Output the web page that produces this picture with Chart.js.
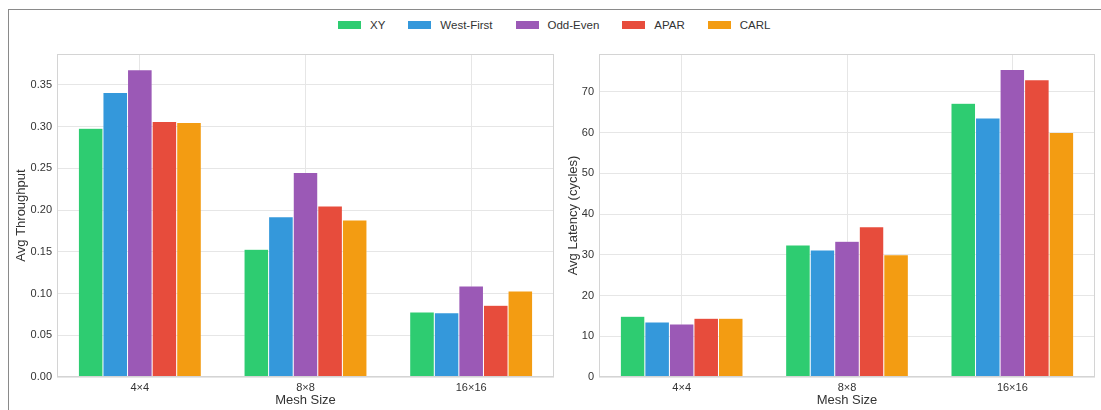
<!DOCTYPE html>
<html>
<head>
<meta charset="utf-8">
<script src="https://cdn.jsdelivr.net/npm/chart.js@4/dist/chart.umd.min.js"></script>
<style>
  html, body { margin: 0; padding: 0; background: #fff; }
  body { width: 1101px; height: 410px; position: relative; overflow: hidden;
         font-family: "Liberation Sans", Arial, sans-serif; }
  #frame { position: absolute; left: 8px; top: 9px; width: 1100px; height: 410px;
           border-top: 1px solid #8a8a8a; border-left: 1px solid #8a8a8a; }
  #legend { position: absolute; left: 338px; top: 17px; height: 16px; display: flex;
            align-items: center; gap: 23px; font-size: 11.5px; color: #333; }
  #legend .item { display: flex; align-items: center; }
  #legend .box { width: 23px; height: 8px; margin-right: 9px; }
  canvas { position: absolute; }
  #throughput { left: 0px; top: 40px; }
  #latency { left: 560px; top: 40px; }
</style>
</head>
<body>
<div id="frame"></div>
<div id="legend"></div>
<canvas id="throughput" width="560" height="370"></canvas>
<canvas id="latency" width="541" height="370"></canvas>
<script>
// Mesh sizes and routing algorithms
const meshSizes = ['4×4', '8×8', '16×16'];
const algorithms = ['XY', 'West-First', 'Odd-Even', 'APAR', 'CARL'];
const algoColors = ['#2ecc71', '#3498db', '#9b59b6', '#e74c3c', '#f39c12'];

// Average throughput per algorithm (one value per mesh size)
const throughputXY        = [0.298, 0.153, 0.078];
const throughputWestFirst = [0.341, 0.192, 0.077];
const throughputOddEven   = [0.368, 0.245, 0.109];
const throughputAPAR      = [0.306, 0.205, 0.086];
const throughputCARL      = [0.305, 0.188, 0.103];

// Average latency in cycles per algorithm (one value per mesh size)
const latencyXY        = [14.9, 32.4, 67.2];
const latencyWestFirst = [13.5, 31.2, 63.6];
const latencyOddEven   = [13.0, 33.3, 75.5];
const latencyAPAR      = [14.4, 36.9, 73.0];
const latencyCARL      = [14.4, 30.0, 60.0];

const throughputSeries = [throughputXY, throughputWestFirst, throughputOddEven, throughputAPAR, throughputCARL];
const latencySeries = [latencyXY, latencyWestFirst, latencyOddEven, latencyAPAR, latencyCARL];

const FONT = '"Liberation Sans", Arial, sans-serif';

// Shared legend above both panels
const legendEl = document.getElementById('legend');
algorithms.forEach((name, i) => {
  const item = document.createElement('div');
  item.className = 'item';
  const box = document.createElement('span');
  box.className = 'box';
  box.style.background = algoColors[i];
  const label = document.createElement('span');
  label.textContent = name;
  item.appendChild(box);
  item.appendChild(label);
  legendEl.appendChild(item);
});

// Outline the whole plot area like axis spines
const plotFrame = {
  id: 'plotFrame',
  afterDatasetsDraw(chart) {
    const { ctx, chartArea: a } = chart;
    ctx.save();
    ctx.strokeStyle = '#d4d4d4';
    ctx.lineWidth = 1;
    ctx.strokeRect(Math.round(a.left) + 0.5, Math.round(a.top) + 0.5,
                   Math.round(a.width) - 1, Math.round(a.height) - 1);
    ctx.restore();
  }
};

function buildDatasets(series) {
  return algorithms.map((name, i) => ({
    label: name,
    data: series[i],
    backgroundColor: algoColors[i],
    borderColor: 'rgba(255,255,255,0.45)',
    borderWidth: 0.5,
    borderSkipped: false,
    categoryPercentage: 0.742,
    barPercentage: 1.0
  }));
}

function makeChart(canvasId, series, yTitle, yMax, yStep, yDecimals, yWidth, padLeft) {
  return new Chart(document.getElementById(canvasId), {
    type: 'bar',
    data: { labels: meshSizes, datasets: buildDatasets(series) },
    options: {
      responsive: false,
      animation: false,
      layout: { padding: { left: padLeft, top: 14, right: 6, bottom: 0 } },
      plugins: { legend: { display: false }, tooltip: { enabled: false } },
      scales: {
        x: {
          offset: true,
          grid: { offset: false, color: '#e6e6e6', lineWidth: 1, drawTicks: false },
          border: { display: false },
          ticks: { color: '#333', font: { family: FONT, size: 11 }, padding: 4 },
          title: { display: true, text: 'Mesh Size', color: '#333',
                   font: { family: FONT, size: 13 }, padding: { top: 0, bottom: 2 } },
          afterFit(scale) { scale.height = 33; }
        },
        y: {
          min: 0,
          max: yMax,
          grid: { color: '#e6e6e6', lineWidth: 1, drawTicks: false },
          border: { display: false },
          ticks: {
            stepSize: yStep,
            includeBounds: false,
            color: '#333',
            font: { family: FONT, size: 11 },
            padding: 5,
            callback: v => Number(v).toFixed(yDecimals)
          },
          title: { display: true, text: yTitle, color: '#333',
                   font: { family: FONT, size: 13 }, padding: { top: 2, bottom: 0 } },
          afterFit(scale) { scale.width = yWidth; }
        }
      }
    },
    plugins: [plotFrame]
  });
}

makeChart('throughput', throughputSeries, 'Avg Throughput', 0.387, 0.05, 2, 45, 12);
makeChart('latency', latencySeries, 'Avg Latency (cycles)', 79.3, 10, 0, 35, 4);
</script>
</body>
</html>
